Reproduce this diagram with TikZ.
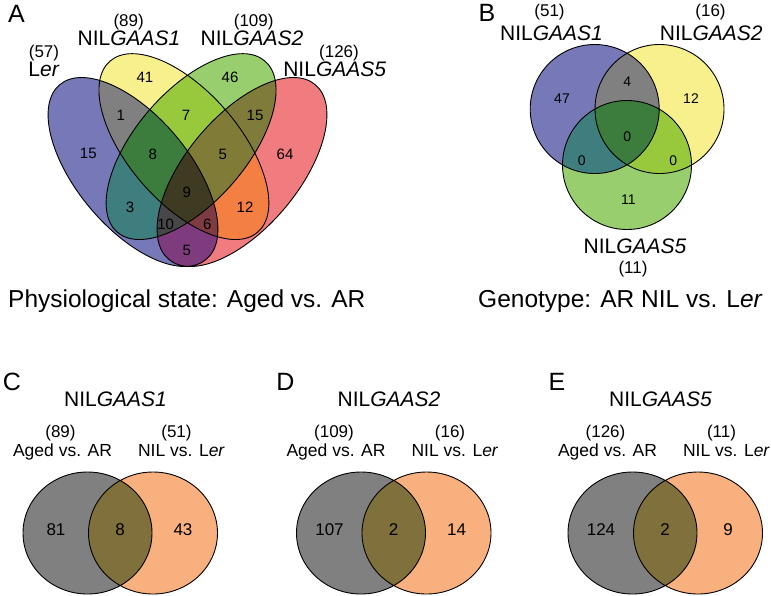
\documentclass[tikz,border=0pt]{standalone}
\usepackage{fontspec}
\setmainfont{Liberation Sans}
\usepackage{xcolor}
\definecolor{vennblue}{HTML}{7678B8}
\definecolor{vennyellow}{HTML}{F8F08C}
\definecolor{venngreen}{HTML}{98CE6E}
\definecolor{vennred}{HTML}{F07C80}
% overlap shades taken from the figure itself, not mixed by opacity
\definecolor{mixgray}{HTML}{808080}
\definecolor{mixteal}{HTML}{3E7E7E}
\definecolor{mixpurple}{HTML}{7E3C7E}
\definecolor{mixlime}{HTML}{98C83C}
\definecolor{mixorange}{HTML}{F38042}
\definecolor{mixolive}{HTML}{7F7B3A}
\definecolor{mixforest}{HTML}{3C7C3C}
\definecolor{mixmaroon}{HTML}{7E3C42}
\definecolor{mixcharcoal}{HTML}{474747}
\definecolor{mixkhaki}{HTML}{807C38}
\definecolor{mixcore}{HTML}{3F3A22}
\definecolor{agedgray}{HTML}{808080}
\definecolor{nilorange}{HTML}{F8B07E}
\definecolor{bothmix}{HTML}{7F703C}

% the inner pair sits a little off the mirror line, so their tips stay
% inside the outer ellipses as in the figure
\newcommand{\ellLer}{(133,172) circle [x radius=114, y radius=56, rotate=-50]}
\newcommand{\ellOne}{(183.9,146.6) circle [x radius=113, y radius=55.5, rotate=-49.2]}
\newcommand{\ellTwo}{(191.1,146.6) circle [x radius=113, y radius=55.5, rotate=49.2]}
\newcommand{\ellFive}{(242,172) circle [x radius=114, y radius=56, rotate=50]}
\newcommand{\cirOne}{(594.7,109) circle [radius=64.5]}
\newcommand{\cirTwo}{(659.5,109) circle [radius=64.5]}
\newcommand{\cirFive}{(627,165) circle [radius=64.5]}

\begin{document}
\begin{tikzpicture}[x=1pt,y=-1pt,
  outline/.style={draw=black,line width=0.9pt},
  panel/.style={font=\fontsize{25}{25}\selectfont,inner sep=0pt},
  setname/.style={font=\fontsize{21}{21}\selectfont,anchor=base,inner sep=0pt},
  total/.style={font=\fontsize{17}{17}\selectfont,anchor=base,inner sep=0pt},
  subname/.style={font=\fontsize{17.5}{17.5}\selectfont,anchor=base,inner sep=0pt},
  num/.style={font=\fontsize{15}{15}\selectfont,inner sep=0pt},
  bignum/.style={font=\fontsize{17}{17}\selectfont,inner sep=0pt},
  caption/.style={font=\fontsize{24.5}{24.5}\selectfont,anchor=base west,inner sep=0pt}
]
  \fill[white] (0,0) rectangle (771,595);
  \useasboundingbox (0,0) rectangle (771,595);

  % A: four ellipses; pairs, then triples, then the core paint over the singles
  \fill[vennblue] \ellLer;
  \fill[vennyellow] \ellOne;
  \fill[venngreen] \ellTwo;
  \fill[vennred] \ellFive;
  \begin{scope}\clip \ellLer; \fill[mixgray] \ellOne; \end{scope}
  \begin{scope}\clip \ellLer; \fill[mixteal] \ellTwo; \end{scope}
  \begin{scope}\clip \ellLer; \fill[mixpurple] \ellFive; \end{scope}
  \begin{scope}\clip \ellOne; \fill[mixlime] \ellTwo; \end{scope}
  \begin{scope}\clip \ellOne; \fill[mixorange] \ellFive; \end{scope}
  \begin{scope}\clip \ellTwo; \fill[mixolive] \ellFive; \end{scope}
  \begin{scope}\clip \ellLer; \clip \ellOne; \fill[mixforest] \ellTwo; \end{scope}
  \begin{scope}\clip \ellLer; \clip \ellOne; \fill[mixmaroon] \ellFive; \end{scope}
  \begin{scope}\clip \ellLer; \clip \ellTwo; \fill[mixcharcoal] \ellFive; \end{scope}
  \begin{scope}\clip \ellOne; \clip \ellTwo; \fill[mixkhaki] \ellFive; \end{scope}
  \begin{scope}\clip \ellLer; \clip \ellOne; \clip \ellTwo; \fill[mixcore] \ellFive; \end{scope}
  \draw[outline] \ellLer \ellOne \ellTwo \ellFive;

  \node[panel] (lblA) at (16.5,13.5) {A};
  \node[total] (totLer) at (44,57) {(57)};
  \node[setname] (nameLer) at (44,76) {L\textit{er}};
  \node[total] (totOne) at (128.7,26.7) {(89)};
  \node[setname] (nameOne) at (129,45.7) {NIL\textit{GAAS1}};
  \node[total] (totTwo) at (253.7,26.7) {(109)};
  \node[setname] (nameTwo) at (252,45.7) {NIL\textit{GAAS2}};
  \node[total] (totFive) at (339,57) {(126)};
  \node[setname] (nameFive) at (334.7,76) {NIL\textit{GAAS5}};
  \foreach \nx/\ny/\val [count=\i] in {145/77.3/41, 230/77.3/46, 120.7/115/1,
      186/115/7, 255/115/15, 88.3/153.3/15, 152.7/154/8, 222.7/154/5,
      285/154/64, 186.7/192.7/9, 130/207.3/3, 245/207.3/12, 165.7/224/10,
      207.3/224/6, 186.7/250.7/5}
    \node[num] (a\i) at (\nx,\ny) {\val};
  \node[caption] (capA) at (8,307) {Physiological state: Aged vs. AR};

  % B: three circles
  \fill[vennblue] \cirOne;
  \fill[vennyellow] \cirTwo;
  \fill[venngreen] \cirFive;
  \begin{scope}\clip \cirOne; \fill[mixgray] \cirTwo; \end{scope}
  \begin{scope}\clip \cirOne; \fill[mixteal] \cirFive; \end{scope}
  \begin{scope}\clip \cirTwo; \fill[mixlime] \cirFive; \end{scope}
  \begin{scope}\clip \cirOne; \clip \cirTwo; \fill[mixforest] \cirFive; \end{scope}
  \draw[outline] \cirOne \cirTwo \cirFive;

  \node[panel] (lblB) at (487,13.3) {B};
  \node[total] (totB1) at (549.5,16) {(51)};
  \node[setname] (nameB1) at (551.5,40) {NIL\textit{GAAS1}};
  \node[total] (totB2) at (710.5,16) {(16)};
  \node[setname] (nameB2) at (711.3,40) {NIL\textit{GAAS2}};
  \node[setname] (nameB5) at (635,253.3) {NIL\textit{GAAS5}};
  \node[total] (totB5) at (633,273) {(11)};
  \foreach \nx/\ny/\val [count=\i] in {562/99/47, 627.3/81.7/4, 691/99/12,
      627.3/136.7/0, 581.7/161/0, 673.3/161/0, 628.3/200/11}
    \node[num,font=\fontsize{14}{14}\selectfont] (b\i) at (\nx,\ny) {\val};
  \node[caption] (capB) at (478,307) {Genotype: AR NIL vs. L\textit{er}};

  % C-E: one gene each, aged-vs-AR against NIL-vs-Ler
  \foreach \gx/\ltr/\gene/\nall/\nnil/\nleft/\nmid/\nright in
      {87.5/C/1/89/51/81/8/43, 361/D/2/109/16/107/2/14, 632.5/E/5/126/11/124/2/9}{
    \fill[agedgray] (\gx,533) circle [x radius=64.5, y radius=61];
    \fill[nilorange] ({\gx+65.5},533) circle [x radius=64.5, y radius=61];
    \begin{scope}
      \clip (\gx,533) circle [x radius=64.5, y radius=61];
      \fill[bothmix] ({\gx+65.5},533) circle [x radius=64.5, y radius=61];
    \end{scope}
    \draw[outline] (\gx,533) circle [x radius=64.5, y radius=61]
      ({\gx+65.5},533) circle [x radius=64.5, y radius=61];
    \node[panel] (lbl\ltr) at ({\gx-75.5},381.7) {\ltr};
    \node[setname] (gene\ltr) at ({\gx+28},406) {NIL\textit{GAAS\gene}};
    \node[total] (all\ltr) at ({\gx-27},437.3) {(\nall)};
    \node[subname] (aged\ltr) at ({\gx-25},456.7) {Aged vs. AR};
    \node[total] (nil\ltr) at ({\gx+89},437.3) {(\nnil)};
    \node[subname] (niler\ltr) at ({\gx+94},456.7) {NIL vs. L\textit{er}};
    \node[bignum] (left\ltr) at ({\gx-31.5},530) {\nleft};
    \node[bignum] (mid\ltr) at ({\gx+32.5},530) {\nmid};
    \node[bignum] (right\ltr) at ({\gx+95.5},530) {\nright};
  }
\end{tikzpicture}
\end{document}
